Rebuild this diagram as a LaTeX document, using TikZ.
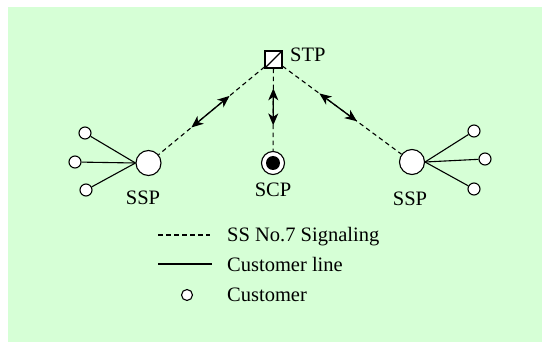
\documentclass[tikz,border=0pt]{standalone}
\usepackage{fontspec}
\setmainfont{Liberation Serif}
\usetikzlibrary{arrows.meta}
\definecolor{panel}{RGB}{214,255,214}
\tikzset{
  signal/.style={dash pattern=on 4.5pt off 3.5pt, line width=1.1pt},
  custline/.style={line width=1.1pt},
  exchange/.style={circle, draw, fill=white, line width=1.1pt, minimum size=25pt, inner sep=0pt},
  customer/.style={circle, draw, fill=white, line width=1.1pt, minimum size=12pt, inner sep=0pt},
  twoway/.style={{Stealth[length=12pt,width=10pt,inset=3.5pt]}-{Stealth[length=12pt,width=10pt,inset=3.5pt]}, line width=1.3pt},
  lbl/.style={font=\fontsize{20.5}{24}\selectfont, inner sep=0pt}
}
\begin{document}
\begin{tikzpicture}[x=1pt, y=-1pt]
  \useasboundingbox (0,0) rectangle (542,342);
  \fill[panel] (8,7) rectangle (542,342);

  % signalling transfer point: square with a diagonal
  \node[draw, fill=white, line width=1.1pt, minimum size=17pt, inner sep=0pt] (stp) at (273.5,59.5) {};
  \draw[line width=1.1pt] (stp.south west) -- (stp.north east);
  \node[lbl, anchor=base west] (stplbl) at (290,62) {STP};

  % switching points and control point
  \node[exchange] (sspL) at (148.5,163) {};
  \node[exchange] (sspR) at (412,162) {};
  \node[circle, draw, fill=white, line width=1.1pt, minimum size=23pt, inner sep=0pt] (scp) at (273,163) {};
  \node[circle, fill=black, minimum size=14pt, inner sep=0pt] (scpcore) at (scp) {};

  \node[lbl, anchor=base] (sspLlbl) at (143,205) {SSP};
  \node[lbl, anchor=base] (scplbl) at (273,197) {SCP};
  \node[lbl, anchor=base] (sspRlbl) at (410,206) {SSP};

  % customers
  \node[customer] (cL1) at (85,133) {};
  \node[customer] (cL2) at (75,162) {};
  \node[customer] (cL3) at (86,190) {};
  \node[customer] (cR1) at (474,131) {};
  \node[customer] (cR2) at (485,159) {};
  \node[customer] (cR3) at (474,189) {};

  \foreach \c in {cL1,cL2,cL3} \draw[custline] (\c) -- (sspL.west);
  \foreach \c in {cR1,cR2,cR3} \draw[custline] (\c) -- (sspR.east);

  % SS7 signalling links with two-way arrows
  \draw[signal] (stp) -- (sspL) coordinate[pos=0.33] (aL1) coordinate[pos=0.69] (aL2);
  \draw[signal] (stp) -- (scp) coordinate[pos=0.24] (aM1) coordinate[pos=0.69] (aM2);
  \draw[signal] (stp) -- (sspR) coordinate[pos=0.31] (aR1) coordinate[pos=0.625] (aR2);
  \draw[twoway] (aL1) -- (aL2);
  \draw[twoway] (aM1) -- (aM2);
  \draw[twoway] (aR1) -- (aR2);

  % legend
  \coordinate (k1a) at (158,235); \coordinate (k1b) at (210,235);
  \coordinate (k2a) at (158,264); \coordinate (k2b) at (212,264);
  \draw[signal] (k1a) -- (k1b);
  \draw[custline] (k2a) -- (k2b);
  \node[customer, minimum size=11pt] (kcust) at (187,295) {};
  \node[lbl, anchor=base west] (k1) at (227,242) {SS No.7 Signaling};
  \node[lbl, anchor=base west] (k2) at (227,272) {Customer line};
  \node[lbl, anchor=base west] (k3) at (227,302) {Customer};
\end{tikzpicture}
\end{document}
